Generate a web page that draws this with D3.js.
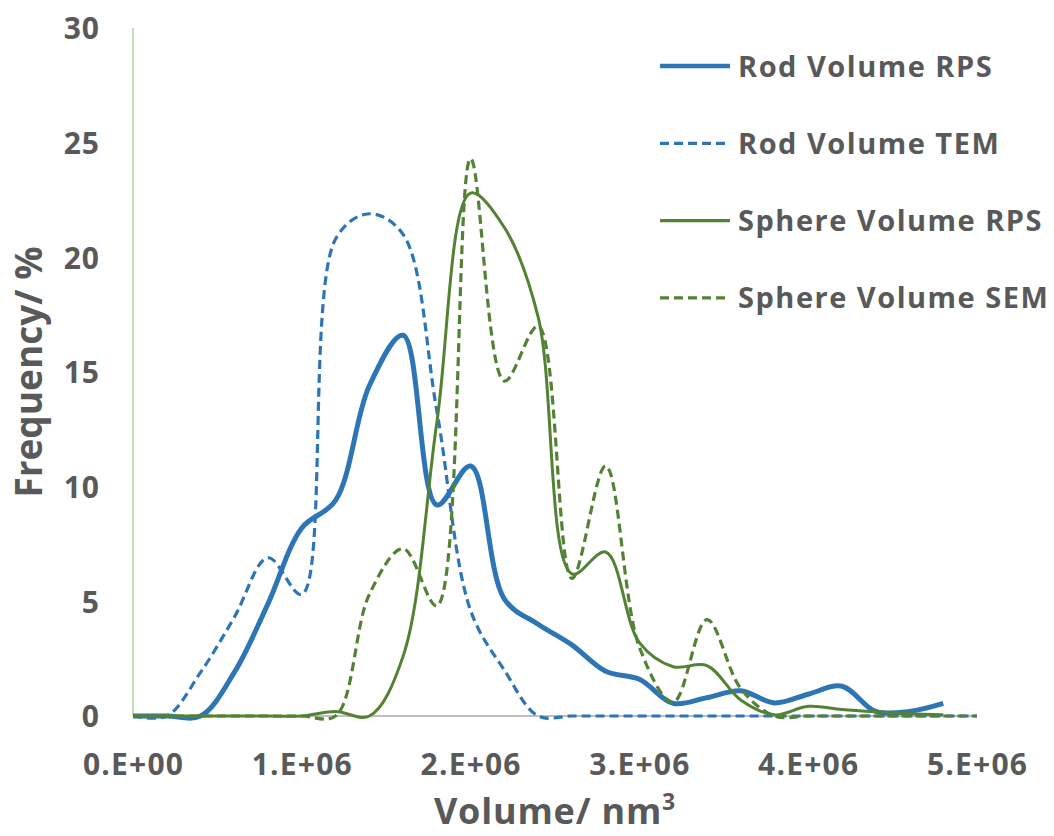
<!DOCTYPE html>
<html>
<head>
<meta charset="utf-8">
<script src="https://cdn.jsdelivr.net/npm/d3@7/dist/d3.min.js"></script>
<style>
  body { margin: 0; background: #fff; }
  text { font-family: "Open Sans", sans-serif; font-weight: bold; fill: #595959; }
</style>
</head>
<body>
<svg width="1054" height="836"></svg>
<script>
// volume bins (nm^3) shared by all series
var volume = [0, 200000, 400000, 600000, 800000, 1000000, 1200000, 1400000, 1600000,
              1800000, 2000000, 2200000, 2400000, 2600000, 2800000, 3000000, 3200000,
              3400000, 3600000, 3800000, 4000000, 4200000, 4400000, 4600000, 4800000, 5000000];

// frequency (%) per series, null = no point
var rodRPS    = [0, 0, 0, 1.9, 4.9, 8.2, 9.4, 14.4, 16.6, 9.2, 10.9, 5.1, 4.0, 3.1, 1.95,
                 1.6, 0.55, 0.8, 1.1, 0.57, 0.95, 1.3, 0.2, 0.2, 0.55, null];
var rodTEM    = [0, 0, 1.9, 4.3, 6.9, 5.3, 20.8, 21.9, 21.0, 13.3, 4.6, 2.0, 0, 0, 0,
                 0, 0, 0, 0, 0, 0, 0, 0, 0, 0, 0];
var sphereRPS = [0, 0, 0, 0, 0, 0, 0.2, 0, 2.6, 12.8, 22.8, 21.3, 17.4, 6.2, 7.15,
                 3.2, 2.15, 2.2, 0.7, 0.05, 0.42, 0.28, 0.18, 0.1, 0.05, null];
var sphereSEM = [0, 0, 0, 0, 0, 0, 0, 5.3, 7.3, 4.8, 24.3, 14.6, 17.0, 6.0, 10.9,
                 3.0, 0.6, 4.2, 1.2, 0, 0, 0, 0, 0, 0, 0];

var seriesNames = ["Rod Volume RPS", "Rod Volume TEM", "Sphere Volume RPS", "Sphere Volume SEM"];
var xTicks = [0, 1000000, 2000000, 3000000, 4000000, 5000000];
var xTickLabels = ["0.E+00", "1.E+06", "2.E+06", "3.E+06", "4.E+06", "5.E+06"];
var yTicks = [0, 5, 10, 15, 20, 25, 30];

var svg = d3.select("svg");

var x = d3.scaleLinear().domain([0, 5000000]).range([133, 977]),
    y = d3.scaleLinear().domain([0, 30]).range([716, 28]);

// y axis line (light green) and x axis line (grey)
svg.append("line")
    .attr("x1", x(0)).attr("x2", x(0))
    .attr("y1", y(30)).attr("y2", y(0))
    .attr("stroke", "#c5e0b4").attr("stroke-width", 2);
svg.append("line")
    .attr("x1", x(0)).attr("x2", x(5000000))
    .attr("y1", y(0)).attr("y2", y(0))
    .attr("stroke", "#bfbfbf").attr("stroke-width", 2);

// tick labels
var xAxis = svg.append("g")
    .attr("transform", "translate(0," + y(0) + ")")
    .call(d3.axisBottom(x).tickValues(xTicks).tickSize(0)
        .tickFormat(function(d, i) { return xTickLabels[i]; }));
xAxis.select(".domain").remove();
xAxis.selectAll("text")
    .attr("y", 59).attr("dy", 0)
    .style("font-size", "30px")
    .style("letter-spacing", "1.2px");

var yAxis = svg.append("g")
    .attr("transform", "translate(" + x(0) + ",0)")
    .call(d3.axisLeft(y).tickValues(yTicks).tickSize(0).tickPadding(33));
yAxis.select(".domain").remove();
yAxis.selectAll("text")
    .attr("dy", "0.36em")
    .style("font-size", "30px")
    .style("letter-spacing", "1px");
svg.selectAll(".tick text").attr("fill", "#595959");

// series
var series = [
  {name: seriesNames[0], values: rodRPS,    color: "#2e75b6", width: 5,   dash: null},
  {name: seriesNames[1], values: rodTEM,    color: "#2e75b6", width: 3.2, dash: "9,5"},
  {name: seriesNames[2], values: sphereRPS, color: "#548235", width: 3,   dash: null},
  {name: seriesNames[3], values: sphereSEM, color: "#548235", width: 3.2, dash: "9,5"}
];

var line = d3.line()
    .defined(function(d) { return d[1] != null; })
    .x(function(d) { return x(d[0]); })
    .y(function(d) { return y(d[1]); })
    .curve(d3.curveCatmullRom.alpha(0.5));

series.forEach(function(s) {
  svg.append("path")
      .datum(volume.map(function(v, i) { return [v, s.values[i]]; }))
      .attr("fill", "none")
      .attr("stroke", s.color)
      .attr("stroke-width", s.width)
      .attr("stroke-dasharray", s.dash)
      .attr("stroke-linejoin", "round")
      .attr("d", line);
});

// legend
var legend = svg.append("g");
series.forEach(function(s, i) {
  var ly = 66 + i * 77.3;
  legend.append("line")
      .attr("x1", 660).attr("x2", 730)
      .attr("y1", ly).attr("y2", ly)
      .attr("stroke", s.color)
      .attr("stroke-width", s.width === 5 ? 4.5 : 3.2)
      .attr("stroke-dasharray", s.dash ? "9,5" : null);
  legend.append("text")
      .attr("x", 738).attr("y", ly + 10.5)
      .style("font-size", "29px")
      .style("letter-spacing", "1.5px")
      .text(s.name);
});

// axis titles
svg.append("text")
    .attr("transform", "translate(42," + ((y(0) + y(30)) / 2) + ") rotate(-90)")
    .attr("text-anchor", "middle")
    .style("font-size", "37px")
    .text("Frequency/ %");

var xt = svg.append("text")
    .attr("x", (x(0) + x(5000000)) / 2)
    .attr("y", 824)
    .attr("text-anchor", "middle")
    .style("font-size", "36px")
    .style("letter-spacing", "0.8px")
    .text("Volume/ nm");
xt.append("tspan")
    .attr("dy", -14)
    .style("font-size", "23px")
    .text("3");
</script>
</body>
</html>
